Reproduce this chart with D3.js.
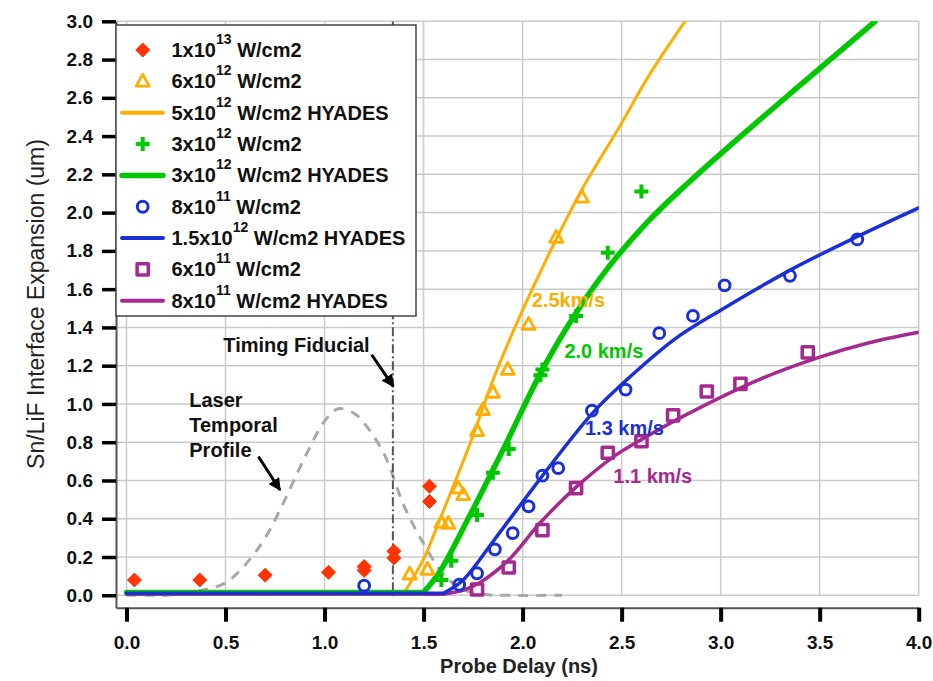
<!DOCTYPE html>
<html>
<head>
<meta charset="utf-8">
<script src="https://cdn.jsdelivr.net/npm/d3@7"></script>
<style>
  body { margin: 0; background: #fff; }
  text { font-family: "Liberation Sans", Arial, sans-serif; }
</style>
</head>
<body>
<svg id="chart" width="933" height="681"></svg>
<script>
// ---- axis ticks ----
const xTicks = [0, 0.5, 1.0, 1.5, 2.0, 2.5, 3.0, 3.5, 4.0];
const yTicks = [0, 0.2, 0.4, 0.6, 0.8, 1.0, 1.2, 1.4, 1.6, 1.8, 2.0, 2.2, 2.4, 2.6, 2.8, 3.0];

// ---- measured interface expansion: [probe delay (ns), expansion (um)] ----
const shot1e13 = [[0.04,0.08],[0.37,0.08],[0.70,0.105],[1.02,0.12],[1.20,0.15],[1.20,0.13],
                  [1.35,0.23],[1.35,0.195],[1.53,0.57],[1.53,0.49]];
const shot6e12 = [[1.43,0.11],[1.52,0.135],[1.59,0.38],[1.625,0.375],[1.675,0.56],[1.70,0.525],
                  [1.77,0.86],[1.80,0.97],[1.85,1.06],[1.925,1.18],[2.03,1.415],[2.17,1.87],[2.30,2.08]];
const shot3e12 = [[1.59,0.08],[1.64,0.18],[1.77,0.42],[1.85,0.64],[1.93,0.765],[2.09,1.15],
                  [2.10,1.18],[2.27,1.46],[2.43,1.79],[2.60,2.11]];
const shot8e11 = [[1.20,0.05],[1.68,0.055],[1.77,0.115],[1.86,0.24],[1.95,0.325],[2.03,0.465],
                  [2.10,0.625],[2.18,0.665],[2.35,0.965],[2.52,1.075],[2.69,1.37],[2.86,1.46],
                  [3.02,1.62],[3.35,1.67],[3.69,1.86]];
const shot6e11 = [[1.77,0.03],[1.93,0.145],[2.10,0.34],[2.27,0.56],[2.43,0.745],[2.60,0.805],
                  [2.76,0.94],[2.93,1.065],[3.10,1.105],[3.44,1.27]];

// ---- HYADES simulations (flat until shock breakout, then rising) ----
const hyades5e12  = [[0,0.01],[1.40,0.01],[1.50,0.19],[1.58,0.39],[1.73,0.78],[1.86,1.15],[2.00,1.49],
                     [2.16,1.84],[2.31,2.14],[2.49,2.45],[2.64,2.72],[2.84,3.03]];
const hyades3e12  = [[0,0.015],[1.50,0.015],[1.58,0.12],[1.73,0.41],[1.92,0.80],[2.09,1.16],[2.26,1.46],
                     [2.43,1.71],[2.63,1.95],[2.83,2.15],[3.13,2.425],[3.40,2.665],[3.78,3.0]];
const hyades15e12 = [[0,0.01],[1.60,0.01],[1.70,0.08],[1.85,0.28],[2.02,0.515],[2.19,0.745],[2.36,0.96],
                     [2.53,1.13],[2.77,1.34],[3.00,1.49],[3.37,1.71],[3.69,1.875],[4.0,2.025]];
const hyades8e11  = [[0,0.005],[1.60,0.005],[1.71,0.03],[1.79,0.07],[1.93,0.185],[2.09,0.38],[2.27,0.565],
                     [2.46,0.725],[2.61,0.82],[2.80,0.93],[3.20,1.13],[3.50,1.245],[3.75,1.32],[4.0,1.375]];

// ---- laser temporal profile (normalised intensity) ----
const laserProfile = [[0,0],[0.1,0],[0.2,0],[0.3,0.01],[0.4,0.03],[0.5,0.065],[0.6,0.16],[0.7,0.30],
                      [0.8,0.50],[0.9,0.72],[1.0,0.91],[1.07,0.975],[1.15,0.95],[1.2,0.90],[1.3,0.74],
                      [1.4,0.47],[1.5,0.27],[1.6,0.11],[1.7,0.03],[1.8,0.005],[1.9,0],[2.2,0]];

const fiducialTime = 1.345;

// ---- legend text ----
const legendBase   = ["1x10", "6x10", "5x10", "3x10", "3x10", "8x10", "1.5x10", "6x10", "8x10"];
const legendExp    = ["13", "12", "12", "12", "12", "11", "12", "11", "11"];
const legendSuffix = [" W/cm2", " W/cm2", " W/cm2 HYADES", " W/cm2", " W/cm2 HYADES",
                      " W/cm2", " W/cm2 HYADES", " W/cm2", " W/cm2 HYADES"];

const velocityText = ["2.5km/s", "2.0 km/s", "1.3 km/s", "1.1 km/s"];

// ---- colours ----
const cRed = "#ff3300", cOrange = "#ffae00", cGreen = "#00c800", cBlue = "#1a30d6", cPurple = "#a52a90";

const svg = d3.select("#chart");
const plotL = 116, plotR = 918.7, plotT = 21.3, plotB = 607.7;

const x = d3.scaleLinear().domain([-0.053, 4.0]).range([plotL, plotR]);
const y = d3.scaleLinear().domain([-0.065, 3.0]).range([plotB, plotT]);

const defs = svg.append("defs");
defs.append("clipPath").attr("id", "plotClip")
  .append("rect").attr("x", plotL).attr("y", plotT).attr("width", plotR - plotL).attr("height", plotB - plotT);
defs.append("marker")
  .attr("id", "arrowHead").attr("viewBox", "0 0 10 10").attr("refX", 9).attr("refY", 5)
  .attr("markerWidth", 4.2).attr("markerHeight", 4.2).attr("orient", "auto")
  .append("path").attr("d", "M0,0 L10,5 L0,10 Z").attr("fill", "#000");

// ---- grid ----
const grid = svg.append("g").attr("stroke", "#cacaca").attr("stroke-width", 1.5);
grid.selectAll("line.h").data(yTicks).join("line").attr("class", "h")
  .attr("x1", plotL).attr("x2", plotR).attr("y1", d => y(d)).attr("y2", d => y(d));
grid.selectAll("line.v").data(xTicks).join("line").attr("class", "v")
  .attr("x1", d => x(d)).attr("x2", d => x(d)).attr("y1", y(3.0)).attr("y2", y(0));

// ---- axes ----
const xAxis = svg.append("g").attr("transform", `translate(0,${plotB})`)
  .call(d3.axisBottom(x).tickValues(xTicks).tickSize(14).tickSizeOuter(0).tickPadding(14)
    .tickFormat(d3.format(".1f")));
xAxis.select(".domain").attr("stroke", "#555").attr("stroke-width", 2);
xAxis.selectAll(".tick line").attr("stroke", "#000").attr("stroke-width", 4);
xAxis.selectAll(".tick text").attr("fill", "#111").attr("font-size", 19).attr("font-weight", "bold")
  .attr("font-family", "Liberation Sans, Arial, sans-serif");

const yAxis = svg.append("g").attr("transform", `translate(${plotL},0)`)
  .call(d3.axisLeft(y).tickValues(yTicks).tickSize(14).tickSizeOuter(0).tickPadding(9)
    .tickFormat(d3.format(".1f")));
yAxis.select(".domain").attr("stroke", "#555").attr("stroke-width", 2);
yAxis.selectAll(".tick line").attr("stroke", "#000").attr("stroke-width", 3.5);
yAxis.selectAll(".tick text").attr("fill", "#111").attr("font-size", 19).attr("font-weight", "bold")
  .attr("font-family", "Liberation Sans, Arial, sans-serif");

svg.append("text").attr("x", 519).attr("y", 673).attr("text-anchor", "middle")
  .attr("font-size", 20).attr("font-weight", "bold").attr("fill", "#222").text("Probe Delay (ns)");
svg.append("text").attr("transform", "translate(44,304) rotate(-90)").attr("text-anchor", "middle")
  .attr("font-size", 23).attr("fill", "#222").text("Sn/LiF Interface Expansion (um)");

// ---- plot content ----
const plot = svg.append("g").attr("clip-path", "url(#plotClip)");
const smoothLine = d3.line().x(d => x(d[0])).y(d => y(d[1])).curve(d3.curveCatmullRom.alpha(0.5));
const straightLine = d3.line().x(d => x(d[0])).y(d => y(d[1]));

// flat pre-breakout segment drawn straight, the rise drawn smooth
function simPath(data) {
  let k = 0;
  while (k + 1 < data.length && data[k + 1][1] === data[0][1]) k++;
  return straightLine(data.slice(0, k + 1)) + smoothLine(data.slice(k));
}

plot.append("path").attr("d", smoothLine(laserProfile))
  .attr("fill", "none").attr("stroke", "#a8a8a8").attr("stroke-width", 3)
  .attr("stroke-dasharray", "10,8");

plot.append("line").attr("x1", x(fiducialTime)).attr("x2", x(fiducialTime))
  .attr("y1", y(3.0)).attr("y2", y(-0.01))
  .attr("stroke", "#555").attr("stroke-width", 2).attr("stroke-dasharray", "9,3,2,3");

const curves = [
  {data: hyades8e11,  color: cPurple, w: 3.5},
  {data: hyades5e12,  color: cOrange, w: 3},
  {data: hyades3e12,  color: cGreen,  w: 5.5},
  {data: hyades15e12, color: cBlue,   w: 3.5}
];
curves.forEach(c => {
  plot.append("path").attr("d", simPath(c.data)).attr("fill", "none")
    .attr("stroke", c.color).attr("stroke-width", c.w).attr("stroke-linecap", "round")
    .attr("stroke-linejoin", "round");
});

// marker shapes
const shapes = {
  diamond:  {d: "M0,-7L7,0L0,7L-7,0Z", fill: true, sw: 0},
  triangle: {d: "M0,-7L6.5,4.8L-6.5,4.8Z", fill: false, sw: 2.8},
  plus:     {d: "M-7,0H7M0,-7V7", fill: false, sw: 4},
  circle:   {d: "M5.4,0A5.4,5.4 0 1,1 -5.4,0A5.4,5.4 0 1,1 5.4,0Z", fill: false, sw: 3},
  square:   {d: "M-5.6,-5.6H5.6V5.6H-5.6Z", fill: false, sw: 3.5}
};
function drawMarker(g, shape, color) {
  const s = shapes[shape];
  return g.append("path").attr("d", s.d)
    .attr("fill", s.fill ? color : "none")
    .attr("stroke", color).attr("stroke-width", s.fill ? 1 : s.sw)
    .attr("stroke-linejoin", "round");
}
const series = [
  {data: shot1e13, shape: "diamond",  color: cRed},
  {data: shot6e12, shape: "triangle", color: cOrange},
  {data: shot3e12, shape: "plus",     color: cGreen},
  {data: shot8e11, shape: "circle",   color: cBlue},
  {data: shot6e11, shape: "square",   color: cPurple}
];
const pts = svg.append("g");
series.forEach(s => {
  s.data.forEach(p => {
    const g = pts.append("g").attr("transform", `translate(${x(p[0])},${y(p[1])})`);
    drawMarker(g, s.shape, s.color);
  });
});

// ---- annotations ----
const ann = svg.append("g").attr("font-size", 20).attr("font-weight", "bold");
const velAnchor = [[2.046, 1.545, cOrange], [2.211, 1.275, cGreen], [2.315, 0.874, cBlue], [2.458, 0.621, cPurple]];
velocityText.forEach((t, i) => {
  ann.append("text").attr("x", x(velAnchor[i][0])).attr("y", y(velAnchor[i][1]) + 7)
    .attr("fill", velAnchor[i][2]).text(t);
});
ann.append("text").attr("x", x(0.489)).attr("y", y(1.31) + 7).attr("fill", "#111").text("Timing Fiducial");
["Laser", "Temporal", "Profile"].forEach((t, i) => {
  ann.append("text").attr("x", x(0.317)).attr("y", y(1.022) + 7 + i * 25).attr("fill", "#111").text(t);
});
ann.append("line").attr("x1", x(1.238)).attr("y1", y(1.257)).attr("x2", x(1.347)).attr("y2", y(1.092))
  .attr("stroke", "#000").attr("stroke-width", 3).attr("marker-end", "url(#arrowHead)");
ann.append("line").attr("x1", x(0.666)).attr("y1", y(0.725)).attr("x2", x(0.775)).attr("y2", y(0.55))
  .attr("stroke", "#000").attr("stroke-width", 3).attr("marker-end", "url(#arrowHead)");

// ---- legend ----
const legend = svg.append("g");
legend.append("rect").attr("x", 116).attr("y", 25).attr("width", 300).attr("height", 291)
  .attr("fill", "#fff").attr("stroke", "#444").attr("stroke-width", 1.5);
const legendKeys = [
  {shape: "diamond", color: cRed}, {shape: "triangle", color: cOrange}, {line: cOrange, w: 4},
  {shape: "plus", color: cGreen}, {line: cGreen, w: 5.5}, {shape: "circle", color: cBlue},
  {line: cBlue, w: 4}, {shape: "square", color: cPurple}, {line: cPurple, w: 4}
];
legendKeys.forEach((k, i) => {
  const cy = 50 + i * 31.35;
  if (k.line) {
    legend.append("line").attr("x1", 122).attr("x2", 163).attr("y1", cy).attr("y2", cy)
      .attr("stroke", k.line).attr("stroke-width", k.w).attr("stroke-linecap", "round");
  } else {
    const g = legend.append("g").attr("transform", `translate(142.7,${cy})`);
    drawMarker(g, k.shape, k.color);
  }
  const t = legend.append("text").attr("x", 171.5).attr("y", cy + 7)
    .attr("font-size", 20).attr("font-weight", "bold").attr("fill", "#111");
  t.append("tspan").text(legendBase[i]);
  t.append("tspan").attr("dy", -13).attr("font-size", 14).text(legendExp[i]);
  t.append("tspan").attr("dy", 13).text(legendSuffix[i]);
});
</script>
</body>
</html>
